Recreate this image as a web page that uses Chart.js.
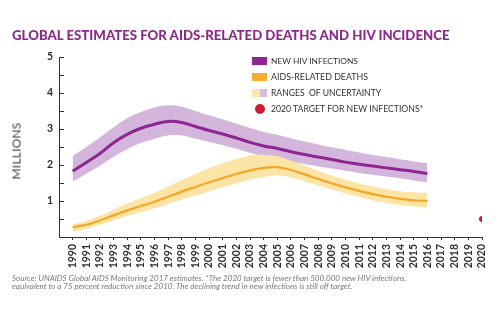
<!DOCTYPE html>
<html>
<head>
<meta charset="utf-8">
<script src="https://cdn.jsdelivr.net/npm/chart.js@4.4.1/dist/chart.umd.min.js"></script>
<style>
  html, body { margin: 0; padding: 0; background: #fff; }
  #wrap { position: relative; width: 500px; height: 326px; overflow: hidden; font-family: Lato, "Open Sans", sans-serif; }
  #chart { position: absolute; left: 0; top: 0; }
  #title { position: absolute; left: 12px; top: 29px; color: #8c2a8c; font-weight: 900; font-size: 13.5px; white-space: nowrap; line-height: 1; }
  #ytitle { position: absolute; left: 16px; top: 151px; transform: translate(-50%, -50%) rotate(-90deg); color: #3a3a3a; font-weight: 400; font-size: 12px; white-space: nowrap; letter-spacing: 0.2px; }
  #legend { position: absolute; left: 252px; top: 55px; }
  .item { position: absolute; left: 0; height: 12px; white-space: nowrap; }
  .item span { position: absolute; left: 19px; top: 0; font-size: 8.4px; color: #333; line-height: 12px; }
  .sw { position: absolute; left: 0; top: 2px; width: 15px; height: 8px; }
  #note { position: absolute; left: 12px; top: 274px; color: #7a7a7a; font-style: italic; font-size: 7.4px; line-height: 7.4px; white-space: nowrap; }
</style>
</head>
<body>
<div id="wrap">
  <canvas id="chart" width="500" height="326"></canvas>
  <div id="title">GLOBAL ESTIMATES FOR AIDS-RELATED DEATHS AND HIV INCIDENCE</div>
  <div id="ytitle">MILLIONS</div>
  <div id="legend">
    <div class="item" style="top:0px"><div class="sw" style="background:#8e2590"></div><span>NEW HIV INFECTIONS</span></div>
    <div class="item" style="top:16px"><div class="sw" style="background:#f6ae2d"></div><span>AIDS-RELATED DEATHS</span></div>
    <div class="item" style="top:32px"><div class="sw" style="width:7.5px;background:#fbe6ad"></div><div class="sw" style="left:7.5px;width:7.5px;background:#d9bde0"></div><span>RANGES&nbsp; OF UNCERTAINTY</span></div>
    <div class="item" style="top:48px"><div class="sw" style="left:3px;top:1px;width:10px;height:10px;border-radius:50%;background:#c8202f"></div><span>2020 TARGET FOR NEW INFECTIONS*</span></div>
  </div>
  <div id="note"><div id="n1">Source: UNAIDS Global AIDS Monitoring 2017 estimates. *The 2020 target is fewer than 500,000 new HIV infections,</div><div id="n2">equivalent to a 75 percent reduction since 2010. The declining trend in new infections is still off target.</div></div>
</div>
<script>
// Years covered by the estimates
const years = [1990,1991,1992,1993,1994,1995,1996,1997,1998,1999,2000,2001,2002,2003,2004,2005,2006,2007,2008,2009,2010,2011,2012,2013,2014,2015,2016];

// New HIV infections (millions) with uncertainty bounds
const newInfections = [1.83,2.07,2.32,2.62,2.85,3.02,3.13,3.21,3.18,3.07,2.96,2.86,2.75,2.63,2.53,2.46,2.37,2.29,2.22,2.15,2.08,2.02,1.97,1.92,1.87,1.82,1.76];
const newInfectionsHigh = [2.25,2.50,2.77,3.05,3.30,3.47,3.60,3.66,3.62,3.50,3.38,3.27,3.15,3.03,2.92,2.84,2.74,2.65,2.57,2.49,2.42,2.35,2.28,2.22,2.16,2.10,2.05];
const newInfectionsLow = [1.54,1.76,1.98,2.23,2.44,2.61,2.73,2.82,2.82,2.73,2.64,2.55,2.45,2.34,2.25,2.18,2.10,2.03,1.96,1.90,1.84,1.78,1.73,1.68,1.63,1.57,1.52];

// AIDS-related deaths (millions) with uncertainty bounds
const aidsDeaths = [0.27,0.34,0.46,0.60,0.74,0.86,0.98,1.12,1.26,1.39,1.52,1.64,1.75,1.85,1.92,1.94,1.86,1.74,1.61,1.49,1.38,1.28,1.19,1.12,1.06,1.02,1.00];
const aidsDeathsHigh = [0.36,0.45,0.59,0.76,0.93,1.08,1.23,1.40,1.58,1.75,1.91,2.05,2.17,2.26,2.28,2.24,2.12,1.98,1.84,1.71,1.59,1.49,1.40,1.33,1.27,1.24,1.22];
const aidsDeathsLow = [0.15,0.23,0.34,0.46,0.58,0.69,0.80,0.92,1.04,1.15,1.27,1.38,1.49,1.60,1.67,1.71,1.66,1.55,1.43,1.32,1.21,1.11,1.02,0.95,0.89,0.85,0.82];

// 2020 target for new infections (millions)
const targetYear = 2020;
const targetValue = 0.5;

// Tick labels
const yTickLabels = ['1','2','3','4','5'];
const xTickYears = [];
for (let y = 1990; y <= 2020; y++) xTickYears.push(y);

const pts = arr => arr.map((v, i) => ({ x: years[i], y: v }));

// Shrink or grow a text block so it spans a given width
function fitWidth(el, target) {
  const fs = parseFloat(getComputedStyle(el).fontSize);
  const w = el.getBoundingClientRect().width;
  el.style.fontSize = (fs * target / w) + 'px';
}
fitWidth(document.getElementById('title'), 438);
document.querySelectorAll('.item span').forEach((s, i) => {
  const widths = [87, 97, 110, 152];
  const fs = parseFloat(getComputedStyle(s).fontSize);
  s.style.fontSize = (fs * widths[i] / s.getBoundingClientRect().width) + 'px';
});
(function () {
  const n1 = document.getElementById('n1');
  const fs = parseFloat(getComputedStyle(n1).fontSize);
  const k = 394 / n1.getBoundingClientRect().width;
  document.getElementById('note').style.fontSize = (fs * k) + 'px';
  document.getElementById('note').style.lineHeight = (fs * k + 0.4) + 'px';
})();

// Inward-pointing tick marks on the y axis (major and half steps)
const yInnerTicks = {
  id: 'yInnerTicks',
  afterDraw(chart) {
    const ys = chart.scales.y;
    const ctx = chart.ctx;
    ctx.save();
    ctx.strokeStyle = '#333';
    ctx.lineWidth = 1;
    for (let v = 0.5; v <= 5.0001; v += 0.5) {
      const py = Math.round(ys.getPixelForValue(v)) + 0.5;
      ctx.beginPath();
      ctx.moveTo(ys.right, py);
      ctx.lineTo(ys.right + 5, py);
      ctx.stroke();
    }
    ctx.restore();
  }
};

const bandBase = { pointRadius: 0, borderWidth: 0, tension: 0.4 };

new Chart(document.getElementById('chart'), {
  type: 'line',
  data: {
    datasets: [
      { ...bandBase, label: 'hivHigh', data: pts(newInfectionsHigh), fill: '+1', backgroundColor: '#d4b6dc', order: 5 },
      { ...bandBase, label: 'hivLow', data: pts(newInfectionsLow), fill: false, order: 5 },
      { ...bandBase, label: 'deathsHigh', data: pts(aidsDeathsHigh), fill: '+1', backgroundColor: '#fbe4a6', order: 4 },
      { ...bandBase, label: 'deathsLow', data: pts(aidsDeathsLow), fill: false, order: 4 },
      { label: 'NEW HIV INFECTIONS', data: pts(newInfections), borderColor: '#8e2590', borderWidth: 3, pointRadius: 0, tension: 0.4, fill: false, order: 1 },
      { label: 'AIDS-RELATED DEATHS', data: pts(aidsDeaths), borderColor: '#f5a623', borderWidth: 2.2, pointRadius: 0, tension: 0.4, fill: false, order: 2 },
      { type: 'scatter', label: '2020 TARGET', data: [{ x: targetYear, y: targetValue }], backgroundColor: '#c8202f', borderWidth: 0, pointRadius: 3, order: 0 }
    ]
  },
  options: {
    responsive: false,
    animation: false,
    events: [],
    layout: { padding: { left: 0, right: 18, top: 57, bottom: 0 } },
    plugins: { legend: { display: false }, tooltip: { enabled: false } },
    scales: {
      x: {
        type: 'linear',
        min: 1989,
        max: 2020,
        afterBuildTicks(scale) { scale.ticks = xTickYears.map(v => ({ value: v })); },
        ticks: {
          autoSkip: false,
          minRotation: 90,
          maxRotation: 90,
          padding: 4,
          color: '#2e2e2e',
          font: { family: 'Lato', weight: 'bold', size: 10.5 },
          callback: v => String(v)
        },
        grid: { drawOnChartArea: false, drawTicks: true, tickLength: 3, color: '#333' },
        border: { color: '#333', width: 1 },
        afterFit(scale) { scale.height = 89; }
      },
      y: {
        type: 'linear',
        min: 0,
        max: 5,
        afterBuildTicks(scale) { scale.ticks = yTickLabels.map(t => ({ value: Number(t) })); },
        ticks: {
          padding: 6,
          color: '#2e2e2e',
          font: { family: 'Lato', weight: 'bold', size: 10.5 },
          callback: v => String(v)
        },
        grid: { display: false, drawTicks: false },
        border: { color: '#333', width: 1 },
        afterFit(scale) { scale.width = 59; }
      }
    }
  },
  plugins: [yInnerTicks]
});
</script>
</body>
</html>
